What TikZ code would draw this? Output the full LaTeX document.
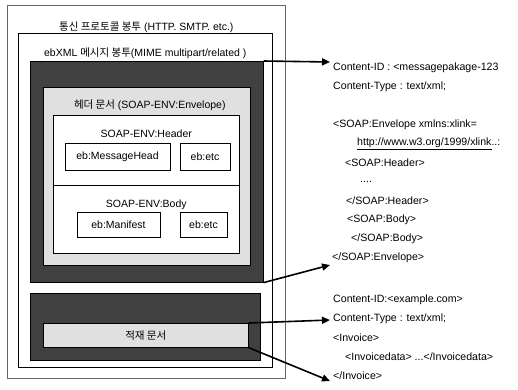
\documentclass[tikz,border=0pt]{standalone}
\usepackage{fontspec}
\setmainfont{Liberation Sans}
\newfontfamily\kr{Noto Sans CJK KR}
\usetikzlibrary{positioning}
\usetikzlibrary{arrows.meta}

\begin{document}
\begin{tikzpicture}[x=1pt,y=-1pt,node distance=19pt,on grid,
    every node/.style={inner sep=0pt, font=\fontsize{10.5}{12}\selectfont},
    frame/.style={draw, line width=0.6pt, anchor=north west},
    darkbox/.style={frame, fill=black!75},
    lightbox/.style={frame, fill=black!12},
    whitebox/.style={frame, fill=white},
    code/.style={anchor=west, font=\fontsize{10.6}{12}\selectfont},
    pointer/.style={-{Triangle[length=8pt,width=7pt]}, line width=1.6pt}]

        \useasboundingbox (0,0) rectangle (518,389);

        % envelopes
        \node[frame, draw=black!60] (proto) [minimum width=278pt, minimum height=373pt] at (7,5) {};
        \node (protolbl) [below=17pt of proto.north] {{\kr 통신 프로토콜 봉투} (HTTP. SMTP. etc.)};

        \node[frame] (ebxml) [minimum width=254pt, minimum height=334pt] at (18,33) {};
        \node (ebxmllbl) [below=15pt of ebxml.north] {ebXML {\kr 메시지 봉투}(MIME multipart/related )};

        % header container
        \node[darkbox] (soapdark) [minimum width=233pt, minimum height=221pt] at (30,61) {};
        \node[lightbox] (envlight) [minimum width=207pt, minimum height=178pt] at (43,87) {};
        \node (envlbl) [below=13pt of envlight.north, xshift=3pt] {{\kr 헤더 문서} (SOAP-ENV:Envelope)};

        \node[whitebox] (header) [minimum width=186pt, minimum height=70pt] at (53,115) {};
        \node (headerlbl) [below=15pt of header.north] {SOAP-ENV:Header};
        \node[whitebox, anchor=center] (msghead) [minimum width=105pt, minimum height=27pt] at (117.5,156.5) {eb:MessageHead};
        \node[whitebox, anchor=center] (hetc) [minimum width=50pt, minimum height=27pt] at (205,156.5) {eb:etc};

        \node[whitebox] (body) [minimum width=186pt, minimum height=68pt] at (53,185) {};
        \node (bodylbl) [below=15pt of body.north] {SOAP-ENV:Body};
        \node[whitebox, anchor=center] (manifest) [minimum width=83pt, minimum height=25pt] at (118.5,224.5) {eb:Manifest};
        \node[whitebox, anchor=center] (betc) [minimum width=47pt, minimum height=25pt] at (203.5,224.5) {eb:etc};

        % payload container
        \node[darkbox] (paydark) [minimum width=230pt, minimum height=67pt] at (30,293) {};
        \node[lightbox] (payload) [minimum width=205pt, minimum height=24pt] at (43,323) {{\kr 적재 문서}};

        % header part text
        \node[code] (cid1) at (333,68) {Content-ID : <messagepakage-123};
        \node (ctype1) [below=of cid1.west, code] {Content-Type : text/xml;};
        \node (env1) [below=38pt of ctype1.west, code] {<SOAP:Envelope xmlns:xlink=};
        \node (xlink) [below=of env1.west, code, xshift=24pt] {\underline{http://www.w3.org/1999/xlink}..:};
        \node (hdr1) [below=of xlink.west, code, xshift=-12pt] {<SOAP:Header>};
        \node (dots) [below=of hdr1.west, code, xshift=15pt] {....};
        \node (hdr2) [below=of dots.west, code, xshift=-14pt] {</SOAP:Header>};
        \node (bdy1) [below=of hdr2.west, code, xshift=1pt] {<SOAP:Body>};
        \node (bdy2) [below=of bdy1.west, code, xshift=4pt] {</SOAP:Body>};
        \node (env2) [below=of bdy2.west, code, xshift=-19pt] {</SOAP:Envelope>};

        % payload text
        \node[code] (cid2) at (333,300) {Content-ID:<example.com>};
        \node (ctype2) [below=of cid2.west, code] {Content-Type : text/xml;};
        \node (inv1) [below=of ctype2.west, code] {<Invoice>};
        \node (invd) [below=of inv1.west, code, xshift=12pt] {<Invoicedata> ...</Invoicedata>};
        \node (inv2) [below=of invd.west, code, xshift=-12pt] {</Invoice>};

        \coordinate (tip1) at (330,62);
        \coordinate (tip2) at (330,265);
        \coordinate (tip3) at (330,320);
        \coordinate (tip4) at (330,381);

        \draw[pointer] (soapdark.north east) -- (tip1);
        \draw[pointer] (soapdark.south east) -- (tip2);
        \draw[pointer] (payload.north east) -- (tip3);
        \draw[pointer] (payload.south east) -- (tip4);

      \end{tikzpicture}
\end{document}
